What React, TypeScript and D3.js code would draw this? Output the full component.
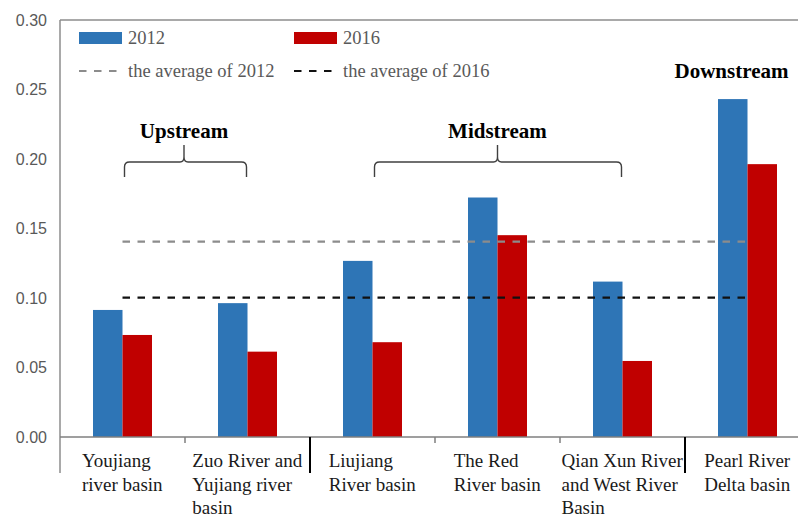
import { useEffect, useRef } from 'react';
import * as d3 from 'd3';

const basins = ['Youjiang', 'Zuo', 'Liujiang', 'Red', 'QianXun', 'Pearl'];
const basinLabels = [
  ['Youjiang', 'river basin'],
  ['Zuo River and', 'Yujiang river', 'basin'],
  ['Liujiang', 'River basin'],
  ['The Red', 'River basin'],
  ['Qian Xun River', 'and West River', 'Basin'],
  ['Pearl River', 'Delta basin'],
];
const years = ['2012', '2016'];
const values2012 = [0.0914, 0.0963, 0.1267, 0.1723, 0.1118, 0.2431];
const values2016 = [0.0734, 0.0614, 0.0682, 0.1452, 0.0547, 0.1963];
const averages = [0.1405, 0.1002];
const yTicks = [0, 0.05, 0.1, 0.15, 0.2, 0.25, 0.3];
const regions = [
  { name: 'Upstream', from: 'Youjiang', to: 'Zuo', brace: true },
  { name: 'Midstream', from: 'Liujiang', to: 'QianXun', brace: true },
  { name: 'Downstream', from: 'Pearl', to: 'Pearl', brace: false },
];

const W = 798;
const H = 514;
const SERIF = '"Liberation Serif", "Times New Roman", serif';
const SANS = '"Liberation Sans", Arial, sans-serif';
const BLUE = '#2E75B6';
const RED = '#C00000';

export default function App() {
  const svgRef = useRef<SVGSVGElement>(null);

  useEffect(() => {
    if (!svgRef.current) return;
    const svg = d3.select(svgRef.current);
    svg.selectAll('*').remove();

    const left = 60;
    const top = 20;
    const bottom = 437;

    const x = d3.scaleBand<string>().domain(basins).range([left, left + 125 * 6]).padding(0);
    const y = d3.scaleLinear().domain([0, 0.3]).range([bottom, top]);
    const center = (b: string) => (x(b) || 0) + x.bandwidth() / 2;
    const xs = d3.scaleBand<string>().domain(years).range([-29.5, 29.5]).padding(0);

    // frame
    svg.append('line').attr('x1', left).attr('x2', W).attr('y1', top).attr('y2', top)
      .attr('stroke', '#8c8c8c').attr('stroke-width', 1.5);
    svg.append('line').attr('x1', left).attr('x2', left).attr('y1', top).attr('y2', 473)
      .attr('stroke', '#8c8c8c').attr('stroke-width', 1.5);

    // y tick labels
    svg.append('g').selectAll('text').data(yTicks).join('text')
      .attr('x', 47).attr('y', d => y(d)).attr('dy', '0.35em')
      .attr('text-anchor', 'end').attr('font-family', SANS).attr('font-size', 16)
      .attr('fill', '#595959').text(d => d3.format('.2f')(d));

    // bars
    const series = [values2012, values2016];
    const colors = [BLUE, RED];
    series.forEach((vals, si) => {
      svg.append('g').selectAll('rect').data(vals).join('rect')
        .attr('x', (_, i) => center(basins[i]) + (xs(years[si]) || 0))
        .attr('width', xs.bandwidth())
        .attr('y', d => y(d))
        .attr('height', d => y(0) - y(d))
        .attr('fill', colors[si]);
    });

    // zero axis
    svg.append('line').attr('x1', left).attr('x2', W).attr('y1', bottom).attr('y2', bottom)
      .attr('stroke', '#7f7f7f').attr('stroke-width', 1.5);

    // category separators
    basins.forEach((b, i) => {
      if (i === 0) return;
      const long = regions.some(r => r.from === b);
      svg.append('line').attr('x1', x(b) || 0).attr('x2', x(b) || 0)
        .attr('y1', bottom).attr('y2', long ? 473 : 443)
        .attr('stroke', long ? '#000' : '#7f7f7f').attr('stroke-width', long ? 2 : 1.5);
    });

    // average lines
    const avgColors = ['#8c8c8c', '#111'];
    averages.forEach((a, i) => {
      svg.append('line')
        .attr('x1', center(basins[0])).attr('x2', center(basins[basins.length - 1]))
        .attr('y1', y(a)).attr('y2', y(a))
        .attr('stroke', avgColors[i]).attr('stroke-width', 2.2)
        .attr('stroke-dasharray', '7.5,7.5');
    });

    // x labels, left-aligned lines in a centred block
    basinLabels.forEach((lines, i) => {
      const g = svg.append('g');
      const t = g.append('text').attr('font-family', SERIF).attr('font-size', 19).attr('fill', '#1a1a1a');
      lines.forEach((ln, j) => {
        t.append('tspan').attr('x', 0).attr('y', 467 + j * 23.5).text(ln);
      });
      const w = (t.node() as SVGTextElement).getBBox().width;
      g.attr('transform', `translate(${center(basins[i]) - w / 2},0)`);
    });

    // regions
    regions.forEach(r => {
      const x1 = center(r.from) + 2;
      const x2 = center(r.to) - 1;
      const mid = r.brace ? (center(r.from) + center(r.to)) / 2 + (r.name === 'Midstream' ? 0 : -1) : center(r.from) - 16;
      if (r.brace) {
        const by = 162;
        const p = d3.path();
        p.moveTo(x1, 177);
        p.lineTo(x1, by + 5);
        p.quadraticCurveTo(x1, by, x1 + 5, by);
        p.lineTo(mid - 4, by);
        p.quadraticCurveTo(mid, by, mid, by - 5);
        p.lineTo(mid, 145);
        p.moveTo(mid, by - 5);
        p.quadraticCurveTo(mid, by, mid + 4, by);
        p.lineTo(x2 - 5, by);
        p.quadraticCurveTo(x2, by, x2, by + 5);
        p.lineTo(x2, 177);
        svg.append('path').attr('d', p.toString()).attr('fill', 'none')
          .attr('stroke', '#404040').attr('stroke-width', 1.4);
      }
      svg.append('text').attr('x', mid).attr('y', r.brace ? 138 : 78)
        .attr('text-anchor', 'middle').attr('font-family', SERIF).attr('font-weight', 'bold')
        .attr('font-size', 21).attr('fill', '#000').text(r.name);
    });

    // legend
    const lg = svg.append('g').attr('font-family', SERIF).attr('font-size', 18.5).attr('fill', '#595959');
    const cols = [79, 294];
    years.forEach((yr, i) => {
      lg.append('rect').attr('x', cols[i]).attr('y', 32).attr('width', 43).attr('height', 12).attr('fill', colors[i]);
      lg.append('text').attr('x', cols[i] + 49).attr('y', 38).attr('dy', '0.35em').text(yr);
      lg.append('line').attr('x1', cols[i]).attr('x2', cols[i] + 38).attr('y1', 71).attr('y2', 71)
        .attr('stroke', avgColors[i]).attr('stroke-width', 2.2).attr('stroke-dasharray', '7.5,7.5');
      lg.append('text').attr('x', cols[i] + 49).attr('y', 71).attr('dy', '0.35em').text(`the average of ${yr}`);
    });
  }, []);

  return (
    <svg ref={svgRef} width={W} height={H}
      style={{ position: 'absolute', left: 0, top: 0, background: '#fff' }} />
  );
}
